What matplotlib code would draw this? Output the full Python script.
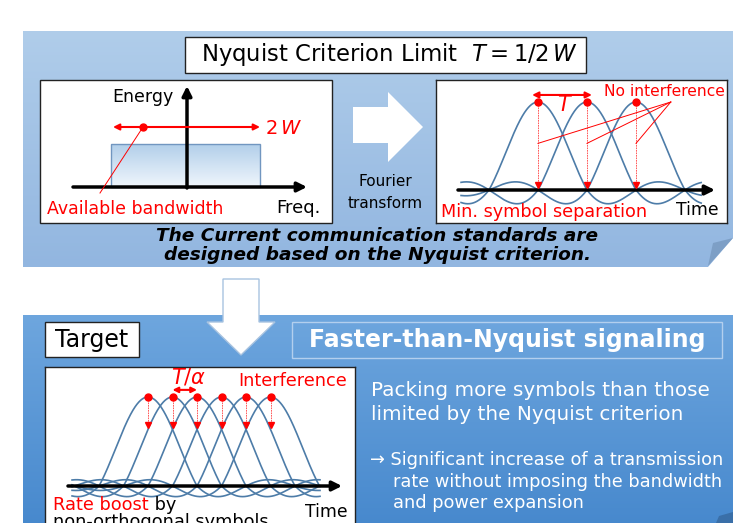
import numpy as np
import matplotlib.pyplot as plt
from matplotlib.patches import Rectangle, Polygon

plt.rcParams['font.family'] = ['DejaVu Sans']
plt.rcParams['mathtext.fontset'] = 'dejavusans'

# symbol positions (units of T) and drawing windows of the pulse trains
nyq_peaks = [0, 1, 2]
nyq_window = (-1.57, 3.33)
ftn_peaks = [0, 0.5, 1, 1.5, 2, 2.5]          # spacing T/alpha, alpha = 2
ftn_window = (-1.55, 3.51)
ftn_arrow_end = 0.65

RED = '#ff0000'
PULSE = '#4d7ca8'


def pulse(t, lobe=0.72):
    # sinc-like pulse, side lobes drawn a little flatter as in the sketch
    s = np.sinc(t)
    return np.where(np.abs(t) <= 1, s, lobe * s)


def gradient(ax, x0, x1, y0, y1, c_top, c_bot, clip=None, z=0):
    c_top = np.array(plt.matplotlib.colors.to_rgb(c_top))
    c_bot = np.array(plt.matplotlib.colors.to_rgb(c_bot))
    s = np.linspace(0, 1, 256)[:, None, None]
    img = c_top * (1 - s) + c_bot * s
    im = ax.imshow(img, extent=(x0, x1, y1, y0), aspect='auto', zorder=z,
                   interpolation='bilinear')
    if clip is not None:
        im.set_clip_path(clip)
    return im


fig = plt.figure(figsize=(7.33, 5.23), dpi=100)
ax = fig.add_axes([0, 0, 1, 1])
ax.set_xlim(0, 733)
ax.set_ylim(523, 0)
ax.axis('off')

# background panels
top = Polygon([(23, 31), (733, 31), (733, 238), (708, 267), (23, 267)],
              closed=True, fc='none', ec='none')
ax.add_patch(top)
gradient(ax, 23, 733, 31, 267, '#b0cdea', '#92b6e0', clip=top, z=0)
ax.add_patch(Polygon([(708, 266), (713, 243), (733, 238)], closed=True,
                     fc='#7d9fc6', ec='none', zorder=1))

bot = Rectangle((23, 315), 710, 215, fc='none', ec='none')
ax.add_patch(bot)
gradient(ax, 23, 733, 315, 530, '#6ea6de', '#4688cd', clip=bot, z=0)
ax.add_patch(Polygon([(716, 523), (719, 516), (733, 512), (733, 523)], closed=True,
                     fc='#3a6fa8', ec='none', zorder=1))

# arrows between panels
ax.add_patch(Polygon([(353, 107), (388, 107), (388, 92), (423, 127), (388, 162),
                      (388, 143), (353, 143)], closed=True, fc='white', ec='none', zorder=2))
ax.add_patch(Polygon([(223, 279), (259, 279), (259, 322), (275, 322), (241, 355),
                      (207, 322), (223, 322)], closed=True, fc='white', ec='#a8c3e0',
                     lw=1, zorder=2))

# title boxes
ax.add_patch(Rectangle((185, 37), 401, 36, fc='white', ec='#222222', lw=1, zorder=2))
ax.text(389, 55, r'Nyquist Criterion Limit  $T = 1/2\,W$', fontsize=16.4,
        ha='center', va='center', zorder=3)
ax.add_patch(Rectangle((45, 322), 94, 35, fc='white', ec='#222222', lw=1, zorder=2))
ax.text(92, 340, 'Target', fontsize=17, ha='center', va='center', zorder=3)
ax.add_patch(Rectangle((292, 322), 430, 36, fc='none', ec='#b3cfee', lw=1, zorder=2))
ax.text(507, 340, 'Faster-than-Nyquist signaling', fontsize=17, fontweight='bold',
        color='white', ha='center', va='center', zorder=3)

ax.text(385, 182, 'Fourier', fontsize=11, ha='center', va='center', zorder=3)
ax.text(385, 204, 'transform', fontsize=11, ha='center', va='center', zorder=3)

ax.text(377, 236, 'The Current communication standards are', fontsize=13.3,
        style='italic', fontweight='bold', ha='center', va='center')
ax.text(377, 255, 'designed based on the Nyquist criterion.', fontsize=13.3,
        style='italic', fontweight='bold', ha='center', va='center')

ax.text(371, 390, 'Packing more symbols than those', fontsize=14.4, color='white',
        ha='left', va='center')
ax.text(371, 415, 'limited by the Nyquist criterion', fontsize=14.4, color='white',
        ha='left', va='center')
ax.text(370, 460, '→ Significant increase of a transmission', fontsize=12.8, color='white',
        ha='left', va='center')
ax.text(393, 482, 'rate without imposing the bandwidth', fontsize=12.8, color='white',
        ha='left', va='center')
ax.text(393, 503, 'and power expansion', fontsize=12.8, color='white',
        ha='left', va='center')

# top-left: spectrum
ax.add_patch(Rectangle((40, 80), 292, 143, fc='white', ec='#222222', lw=1, zorder=2))
band = Rectangle((111, 144), 149, 43, fc='none', ec='#7196c0', lw=1, zorder=4)
ax.add_patch(band)
gradient(ax, 111, 260, 144, 187, '#b2cfea', '#f0f6fc', clip=band, z=3)
ax.annotate('', xy=(307, 187), xytext=(73, 187), zorder=5,
            arrowprops=dict(arrowstyle='-|>', lw=2.5, color='black', mutation_scale=14,
                            shrinkA=0, shrinkB=0))
ax.annotate('', xy=(187, 86), xytext=(187, 188), zorder=5,
            arrowprops=dict(arrowstyle='-|>', lw=2.5, color='black', mutation_scale=14,
                            shrinkA=0, shrinkB=0))
ax.text(173, 97, 'Energy', fontsize=12.5, ha='right', va='center', zorder=5)
ax.annotate('', xy=(113, 127), xytext=(260, 127), zorder=5,
            arrowprops=dict(arrowstyle='<|-|>', lw=1.5, color=RED, mutation_scale=9,
                            shrinkA=0, shrinkB=0))
ax.plot([143, 100], [127, 193], color=RED, lw=0.7, zorder=5)
ax.plot(143, 127, 'o', color=RED, ms=5, zorder=6)
ax.text(265, 128, r'$2\,W$', fontsize=14, color=RED, ha='left', va='center', zorder=5)
ax.text(47, 209, 'Available bandwidth', fontsize=12.5, color=RED, ha='left',
        va='center', zorder=5)
ax.text(321, 208, 'Freq.', fontsize=13, ha='right', va='center', zorder=5)


def pulse_axes(box, t0_px, base_px, T_px, unit_px):
    x0, y0, x1, y1 = box
    pa = fig.add_axes([x0 / 733, 1 - y1 / 523, (x1 - x0) / 733, (y1 - y0) / 523])
    pa.set_xlim((x0 - t0_px) / T_px, (x1 - t0_px) / T_px)
    pa.set_ylim((base_px - y1) / unit_px, (base_px - y0) / unit_px)
    pa.set_xticks([])
    pa.set_yticks([])
    for s in pa.spines.values():
        s.set_color('#222222')
        s.set_linewidth(1)
    return pa


def draw_train(pa, peaks, window, axis_span, lobe):
    t = np.linspace(window[0], window[1], 800)
    for p in peaks:
        pa.plot(t, pulse(t - p, lobe), color=PULSE, lw=1.2, zorder=2)
    pa.annotate('', xy=(axis_span[1], 0), xytext=(axis_span[0], 0), zorder=3,
                arrowprops=dict(arrowstyle='-|>', lw=2.5, color='black',
                                mutation_scale=14, shrinkA=0, shrinkB=0))


# top-right: Nyquist pulses
pa = pulse_axes((436, 80, 727, 223), 538, 190, 49, 88)
draw_train(pa, nyq_peaks, nyq_window, (-1.633, 3.612), 0.72)
for p in nyq_peaks:
    pa.plot([p, p], [1, 0.05], color=RED, lw=0.6, alpha=0.75, ls=(0, (2, 1)), zorder=4)
    pa.plot(p, 1, 'o', color=RED, ms=5, zorder=5)
    pa.plot(p, 0.06, 'v', color=RED, ms=5, zorder=5)
    pa.plot([2.71, p], [1.0, 0.53], color=RED, lw=0.7, zorder=4)
pa.annotate('', xy=(-0.12, 1.08), xytext=(1.1, 1.08), zorder=5,
            arrowprops=dict(arrowstyle='<|-|>', lw=1.5, color=RED, mutation_scale=9,
                            shrinkA=0, shrinkB=0))
pa.text(0.55, 0.97, r'$T$', fontsize=15, color=RED, ha='center', va='center', zorder=5)
pa.text(3.82, 1.125, 'No interference', fontsize=11.2, color=RED, ha='right', va='center',
        zorder=5)
pa.text(-1.98, -0.25, 'Min. symbol separation', fontsize=12.7, color=RED, ha='left',
        va='center', zorder=5)
pa.text(3.68, -0.23, 'Time', fontsize=12.4, ha='right', va='center', zorder=5)

# bottom-left: faster-than-Nyquist pulses
pb = pulse_axes((45, 367, 355, 535), 148, 486, 49, 89)
draw_train(pb, ftn_peaks, ftn_window, (-1.633, 3.96), 0.55)
for p in ftn_peaks:
    pb.plot([p, p], [1, ftn_arrow_end + 0.03], color=RED, lw=0.6, alpha=0.75,
            ls=(0, (2, 1)), zorder=4)
    pb.plot(p, 1, 'o', color=RED, ms=5, zorder=5)
    pb.plot(p, ftn_arrow_end + 0.03, 'v', color=RED, ms=5, zorder=5)
pb.annotate('', xy=(0.5, 1.08), xytext=(1.0, 1.08), zorder=5,
            arrowprops=dict(arrowstyle='<|-|>', lw=1.5, color=RED, mutation_scale=8,
                            shrinkA=0, shrinkB=0))
pb.text(0.82, 1.22, r'$T/\alpha$', fontsize=15, color=RED, ha='center', va='center',
        zorder=5)
pb.text(1.84, 1.18, 'Interference', fontsize=12.7, color=RED, ha='left', va='center',
        zorder=5)
rb = pb.text(-1.94, -0.21, 'Rate boost', fontsize=12.8, color=RED, ha='left',
             va='center', zorder=5)
pb.annotate(' by', xycoords=rb, xy=(1, 0.5), va='center', ha='left', fontsize=12.8,
            zorder=5)
pb.text(-1.94, -0.405, 'non-orthogonal symbols', fontsize=12.8, ha='left', va='center',
        zorder=5)
pb.text(4.08, -0.29, 'Time', fontsize=12.4, ha='right', va='center', zorder=5)

fig.savefig('out.png', dpi=100)
